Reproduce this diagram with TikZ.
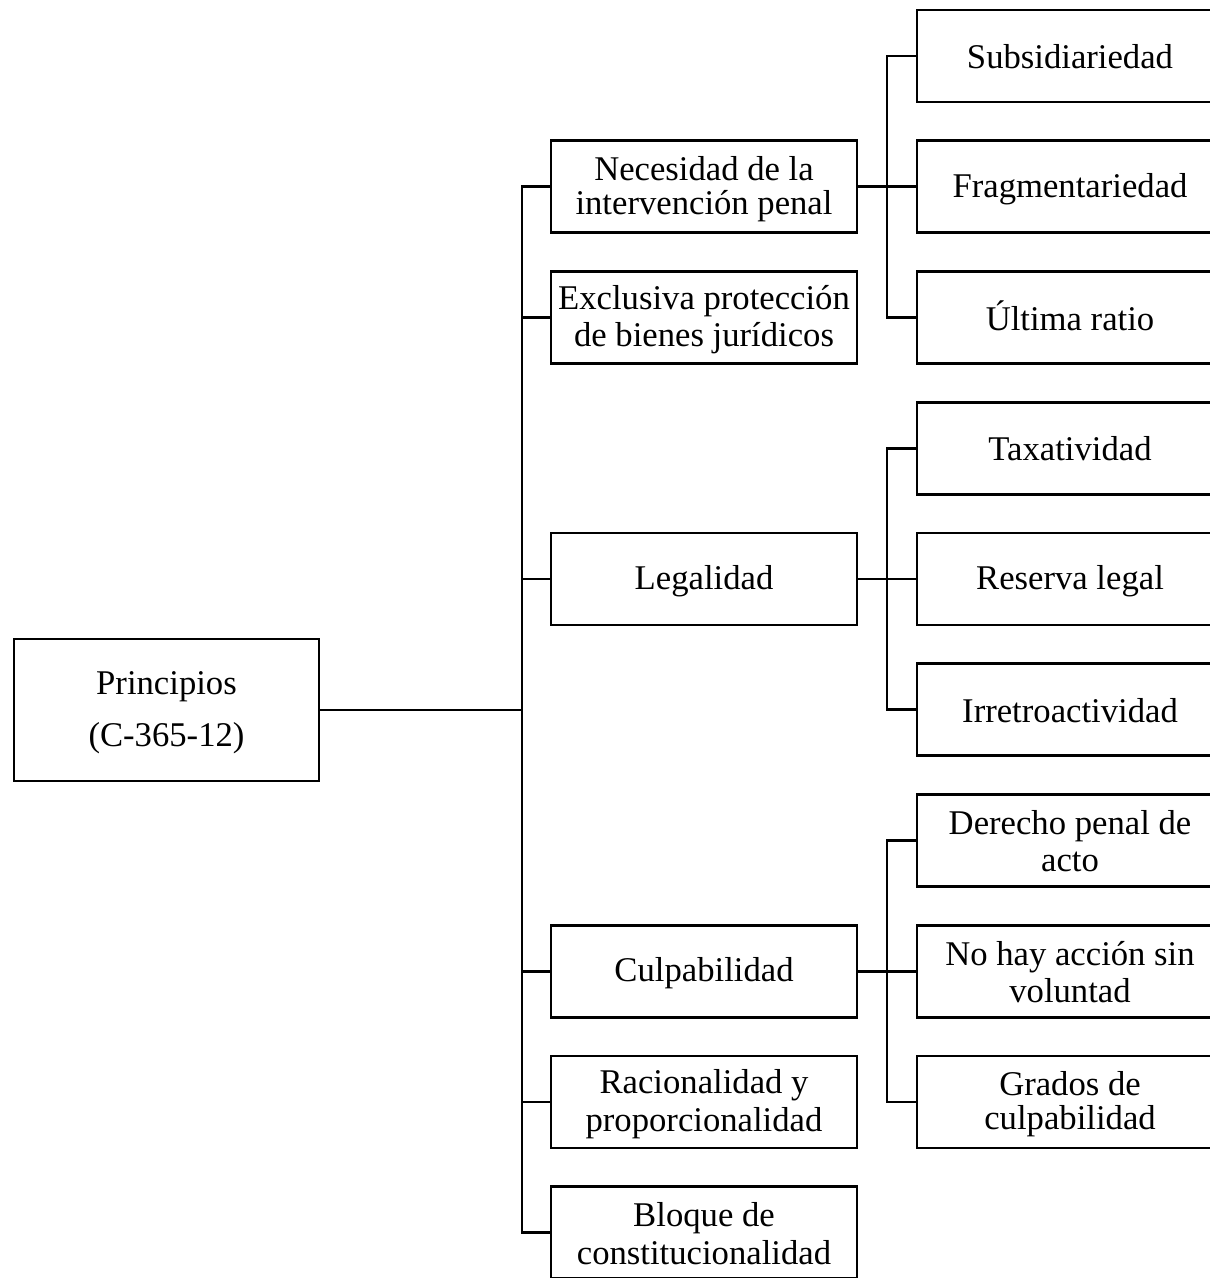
\documentclass[tikz,border=0pt]{standalone}
\usepackage{fontspec}
\setmainfont{Liberation Serif}
% line strut: fixes every text line's height and depth
\newcommand\sx{\rule[-2.5pt]{0pt}{24pt}}
\begin{document}
\begin{tikzpicture}[x=0.75pt,y=-0.75pt,
  box/.style={draw=black, line width=2pt, rectangle, align=center,
    minimum width=229.5pt, minimum height=69pt, inner sep=0pt,
    font=\fontsize{26}{25.5}\selectfont},
  rootbox/.style={box, minimum width=228.75pt, minimum height=106.5pt,
    font=\fontsize{26}{39}\selectfont},
  link/.style={draw=black, line width=2pt}]
\useasboundingbox (0,0) rectangle (1210,1278);
\clip (0,0) rectangle (1210,1278);

% root
\node[rootbox] (root) at (166.5,710) {\sx Principios\\\sx (C-365-12)};

% first level
\node[box] (nec) at (704,186.75) {\sx Necesidad de la\\\sx intervención penal};
\node[box] (exc) at (704,317.5) {\sx Exclusiva protección\\\sx de bienes jurídicos};
\node[box] (leg) at (704,579) {\sx Legalidad};
\node[box] (cul) at (704,971.25) {\sx Culpabilidad};
\node[box] (rac) at (704,1102) {\sx Racionalidad y\\\sx proporcionalidad};
\node[box] (blo) at (704,1232.75) {\sx Bloque de\\\sx constitucionalidad};

% second level
\node[box] (sub) at (1070,56) {\sx Subsidiariedad};
\node[box] (fra) at (1070,186.75) {\sx Fragmentariedad};
\node[box] (ult) at (1070,317.5) {\sx Última ratio};
\node[box] (tax) at (1070,448.25) {\sx Taxatividad};
\node[box] (res) at (1070,579) {\sx Reserva legal};
\node[box] (irr) at (1070,709.75) {\sx Irretroactividad};
\node[box] (der) at (1070,840.5) {\sx Derecho penal de\\\sx acto};
\node[box] (noh) at (1070,971.25) {\sx No hay acción sin\\\sx voluntad};
\node[box] (gra) at (1070,1102) {\sx Grados de\\\sx culpabilidad};

% junctions
\coordinate (t0) at (522,710);
\coordinate (j1) at (887,186.75);
\coordinate (j2) at (887,579);
\coordinate (j3) at (887,971.25);

% connectors
\draw[link] (root.east) -- (t0);
\foreach \m in {nec,exc,leg,cul,rac,blo}
  \draw[link] (\m.west) -| (t0);

\draw[link] (nec.east) -- (j1);
\foreach \s in {sub,fra,ult}
  \draw[link] (\s.west) -| (j1);

\draw[link] (leg.east) -- (j2);
\foreach \s in {tax,res,irr}
  \draw[link] (\s.west) -| (j2);

\draw[link] (cul.east) -- (j3);
\foreach \s in {der,noh,gra}
  \draw[link] (\s.west) -| (j3);
\end{tikzpicture}
\end{document}
